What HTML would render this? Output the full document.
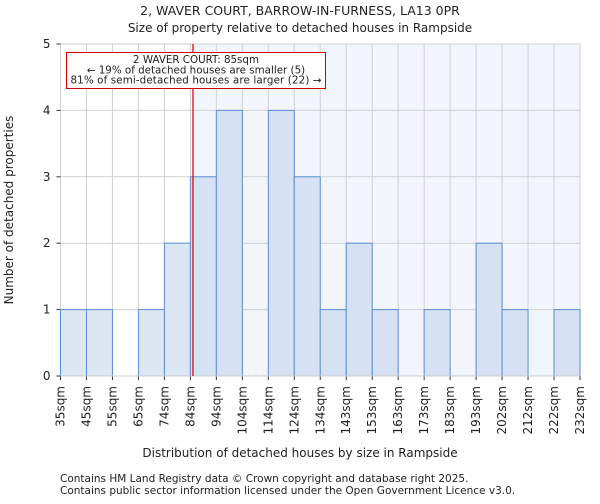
<!DOCTYPE html>
<html><head><meta charset="utf-8"><style>
body{margin:0;background:#fff;font-family:"DejaVu Sans","Liberation Sans",sans-serif;}
svg text{font-family:"DejaVu Sans","Liberation Sans",sans-serif;fill:#222;}
</style></head><body>
<svg id="c" width="600" height="500" xmlns="http://www.w3.org/2000/svg">
<text x="300" y="15" text-anchor="middle" font-size="12.5">2, WAVER COURT, BARROW-IN-FURNESS, LA13 0PR</text>
<text x="300" y="32" text-anchor="middle" font-size="12">Size of property relative to detached houses in Rampside</text>
<g id="plot"></g>
<text x="300" y="457" text-anchor="middle" font-size="12">Distribution of detached houses by size in Rampside</text>
<text transform="translate(13,210) rotate(-90)" text-anchor="middle" font-size="12">Number of detached properties</text>
<text x="60" y="482" font-size="10.5">Contains HM Land Registry data © Crown copyright and database right 2025.</text>
<text x="60" y="494" font-size="10.5">Contains public sector information licensed under the Open Government Licence v3.0.</text>
</svg>
<script>
const binLabels=["35sqm","45sqm","55sqm","65sqm","74sqm","84sqm","94sqm","104sqm","114sqm","124sqm","134sqm","143sqm","153sqm","163sqm","173sqm","183sqm","193sqm","202sqm","212sqm","222sqm","232sqm"];
const counts=[1,1,0,1,2,3,4,0,4,3,1,2,1,0,1,0,2,1,0,1];
const yTicks=[0,1,2,3,4,5];
const subjectBin=5.1;
const NS="http://www.w3.org/2000/svg";
const L=60.5,R=580,T=44,B=376,yMax=5;
const n=counts.length,bw=(R-L)/n;
const xS=i=>L+i*bw, yS=v=>B-(B-T)*v/yMax;
const g=document.getElementById('plot');
function mk(t,a){const e=document.createElementNS(NS,t);for(const k in a)e.setAttribute(k,a[k]);g.appendChild(e);return e;}
const rx=xS(subjectBin);
let e=mk('rect',{x:rx,y:T,width:R-rx,height:B-T,fill:'#f2f5fc'});


for(let i=0;i<=n;i++){e=mk('line',{x1:xS(i),x2:xS(i),y1:T,y2:B,stroke:'#d0d0d0','stroke-width':1});

}
yTicks.forEach(v=>{e=mk('line',{x1:L,x2:R,y1:yS(v),y2:yS(v),stroke:'#d0d0d0','stroke-width':1});


e=mk('line',{x1:L-4,x2:L,y1:yS(v),y2:yS(v),stroke:'#333'});


const t=mk('text',{x:L-10,y:yS(v)+4,'text-anchor':'end','font-size':12});t.textContent=v;

});
counts.forEach((c,i)=>{if(c<=0)return;
e=mk('rect',{x:xS(i),y:yS(c),width:bw,height:B-yS(c),fill:i<5?'#dde6f3':'#d6e1f3',stroke:'#5b8fd8','stroke-width':1});

});
binLabels.forEach((lb,i)=>{const x=xS(i);
e=mk('line',{x1:x,x2:x,y1:B,y2:B+4,stroke:'#333'});


const t=mk('text',{transform:`translate(${x+4},${B+10}) rotate(-90)`,'text-anchor':'end','font-size':12});t.textContent=lb;

});
e=mk('line',{x1:L,x2:R,y1:B,y2:B,stroke:'#ccc'});


e=mk('line',{x1:rx,x2:rx,y1:T,y2:B,stroke:'#cc0000','stroke-width':1.2});


e=mk('rect',{x:66.5,y:52.5,width:259,height:36,fill:'#fff',stroke:'#cc0000','stroke-width':1});


["2 WAVER COURT: 85sqm","← 19% of detached houses are smaller (5)","81% of semi-detached houses are larger (22) →"].forEach((s,k)=>{
const t=mk('text',{x:196,y:63+k*10.3,'text-anchor':'middle','font-size':10.3,textLength:k==2?251:null});t.textContent=s;
if(k!=2)t.removeAttribute('textLength');

});
</script>
</body></html>
